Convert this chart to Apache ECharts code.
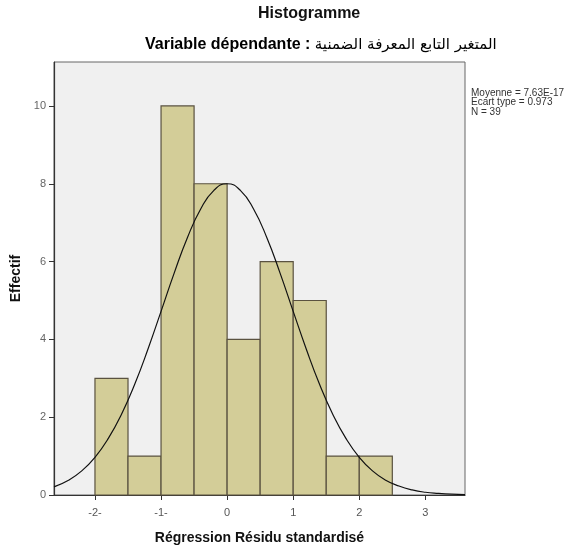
<!DOCTYPE html>
<html><head><meta charset="utf-8">
<script src="https://cdn.jsdelivr.net/npm/echarts@6/dist/echarts.min.js"></script>
<style>html,body{margin:0;padding:0;background:#fff}#c{width:571px;height:548px}</style>
</head><body><div id="c"></div>
<script>
const binStarts = [-2, -1.5, -1, -0.5, 0, 0.5, 1, 1.5, 2];
const binEnds   = [-1.5, -1, -0.5, 0, 0.5, 1, 1.5, 2, 2.5];
const counts    = [3, 1, 10, 8, 4, 6, 5, 1, 1];
const curveX = [-2.62,-2.4,-2.2,-2.0,-1.8,-1.6,-1.4,-1.2,-1.0,-0.8,-0.6,-0.4,-0.2,0,0.2,0.4,0.6,0.8,1.0,1.2,1.4,1.6,1.8,2.0,2.2,2.4,2.6,2.8,3.0,3.2,3.4,3.6];
const curveY = [0.21,0.38,0.62,0.97,1.45,2.07,2.84,3.74,4.72,5.71,6.62,7.35,7.83,8.0,7.83,7.35,6.62,5.71,4.72,3.74,2.84,2.07,1.45,0.97,0.62,0.38,0.23,0.13,0.07,0.04,0.02,0.01];
const xTicks = [-2, -1, 0, 1, 2, 3];
const xTickLabels = ['-2-', '-1-', '0', '1', '2', '3'];
const yTicks = [0, 2, 4, 6, 8, 10];
const statsLines = ['Moyenne = 7.63E-17', 'Ecart type = 0.973', 'N = 39'];

const chart = echarts.init(document.getElementById('c'), null, {renderer: 'canvas'});
const font = 'Liberation Sans, Arial, sans-serif';
chart.setOption({
  animation: false,
  backgroundColor: '#ffffff',
  grid: {left: 54, right: 106, top: 62, bottom: 53, outerBoundsMode: 'none', containLabel: false,
    show: true, backgroundColor: '#f0f0f0', borderColor: '#666', borderWidth: 1},
  xAxis: {
    type: 'value', min: -2.62, max: 3.6,
    name: 'Régression Résidu standardisé', nameLocation: 'middle', nameGap: 36,
    nameTextStyle: {fontFamily: font, fontSize: 14, fontWeight: 'bold', color: '#111'},
    axisLine: {show: true, onZero: false, lineStyle: {color: '#333', width: 1.2}},
    axisTick: {show: true, length: 5, lineStyle: {color: '#333'}, customValues: xTicks},
    axisLabel: {customValues: xTicks, fontFamily: font, fontSize: 11, color: '#555', margin: 12,
      formatter: v => { const i = xTicks.indexOf(Math.round(v)); return i >= 0 ? xTickLabels[i] : ''; }},
    splitLine: {show: false}
  },
  yAxis: {
    type: 'value', min: 0, max: 11.13,
    name: 'Effectif', nameLocation: 'middle', nameGap: 28,
    nameTextStyle: {fontFamily: font, fontSize: 14, fontWeight: 'bold', color: '#111'},
    axisLine: {show: true, onZero: false, lineStyle: {color: '#333', width: 1.2}},
    axisTick: {show: true, length: 5, lineStyle: {color: '#333'}, customValues: yTicks},
    axisLabel: {customValues: yTicks, fontFamily: font, fontSize: 11, color: '#666', margin: 8},
    splitLine: {show: false}
  },
  graphic: [
    {type: 'text', left: 258, top: 6, style: {text: 'Histogramme', font: 'bold 16px Liberation Sans, Arial, sans-serif', fill: '#111'}},
    {type: 'text', left: 145, top: 37, style: {
      text: '{a|Variable dépendante : }{b|المتغير التابع المعرفة الضمنية}',
      rich: {
        a: {fontFamily: font, fontSize: 16, fontWeight: 'bold', color: '#111'},
        b: {fontFamily: 'DejaVu Sans, sans-serif', fontSize: 15, color: '#111'}
      }}},
    {type: 'text', left: 471, top: 88, style: {text: statsLines.join('\n'), font: '10px Liberation Sans, Arial, sans-serif', fill: '#333', lineHeight: 9.5}}
  ],
  series: [
    {
      type: 'custom',
      data: counts.map((c, i) => [binStarts[i], binEnds[i], c]),
      encode: {x: [0, 1], y: 2},
      renderItem: (params, api) => {
        const p0 = api.coord([api.value(0), api.value(2)]);
        const p1 = api.coord([api.value(1), 0]);
        return {type: 'rect', shape: {x: p0[0], y: p0[1], width: p1[0] - p0[0], height: p1[1] - p0[1]},
          style: {fill: '#d3cd98', stroke: '#5a5240', lineWidth: 1.2}};
      },
      z: 2
    },
    {
      type: 'line', data: curveX.map((x, i) => [x, curveY[i]]), smooth: true, symbol: 'none',
      lineStyle: {color: '#111', width: 1.2}, z: 3
    }
  ]
});
</script></body></html>
